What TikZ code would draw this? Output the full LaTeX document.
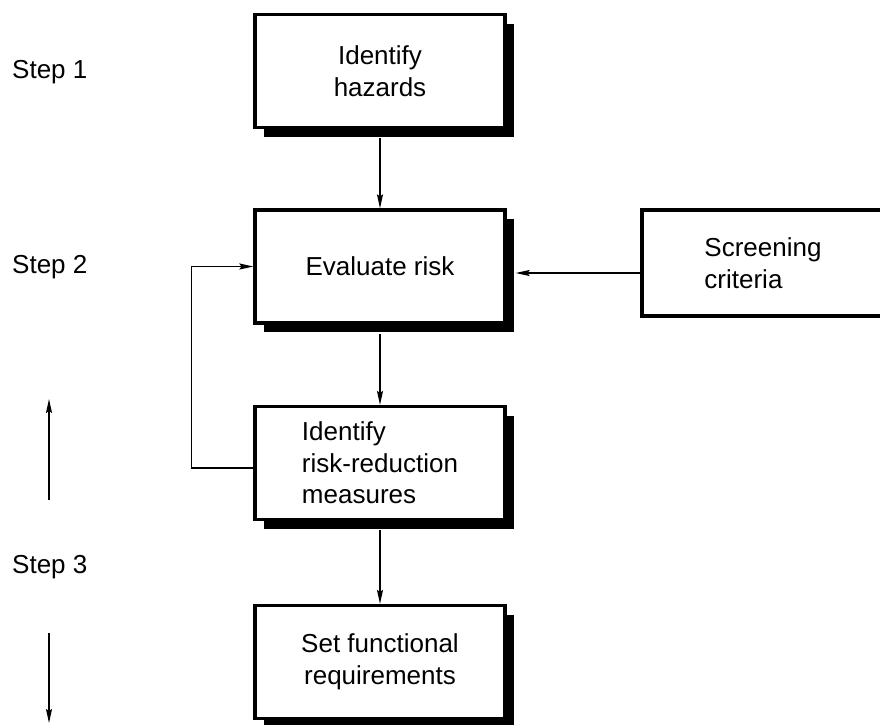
\documentclass[tikz,border=0pt]{standalone}
\usepackage{fontspec}
\setmainfont{Liberation Sans}
\usetikzlibrary{shadows,arrows.meta}
\begin{document}
\begin{tikzpicture}[x=1pt,y=-1pt,
  txt/.style={font=\fontsize{26}{31.5}\selectfont},
  box/.style={txt, draw, line width=3.2pt, fill=white, minimum width=250pt, minimum height=113pt, inner sep=0pt, align=center},
  shadowed/.style={general shadow={fill=black, shadow xshift=9pt, shadow yshift=-9pt}},
  leftbox/.style={align=left},
  arr/.style={line width=1.4pt, -{Stealth[length=14pt,width=6pt,inset=2pt]}},
  steplabel/.style={txt, anchor=base west, inner sep=0pt}
]
\useasboundingbox (0,0) rectangle (880,724);

\node[box, shadowed] (b1) at (380,71) {Identify\\hazards};
\node[box, shadowed] (b2) at (380,266.5) {Evaluate risk};
\node[box, shadowed, leftbox] (b3) at (380,463) {Identify\\risk-reduction\\measures};
\node[box, shadowed] (b4) at (380,662) {Set functional\\requirements};
\node[box, leftbox, minimum width=242pt, minimum height=106pt] (sc) at (763,263) {Screening\\criteria};

\node[steplabel] (s1) at (12,78) {Step 1};
\node[steplabel] (s2) at (12,273) {Step 2};
\node[steplabel] (s3) at (12,573) {Step 3};

\draw[arr] ([yshift=-9pt]b1.south) -- (b2.north);
\draw[arr] ([yshift=-9pt]b2.south) -- (b3.north);
\draw[arr] ([yshift=-9pt]b3.south) -- (b4.north);
\draw[arr] ([yshift=-10pt]sc.west) -- ([xshift=9pt,yshift=-6.5pt]b2.east);
\draw[arr] ([yshift=-5pt]b3.west) -- ++(-62,0) |- (b2.west);

\coordinate (u1) at (49,500);
\coordinate (u2) at (49,399);
\coordinate (d1) at (49,633);
\coordinate (d2) at (49,723);
\draw[arr] (u1) -- (u2);
\draw[arr] (d1) -- (d2);
\end{tikzpicture}
\end{document}
